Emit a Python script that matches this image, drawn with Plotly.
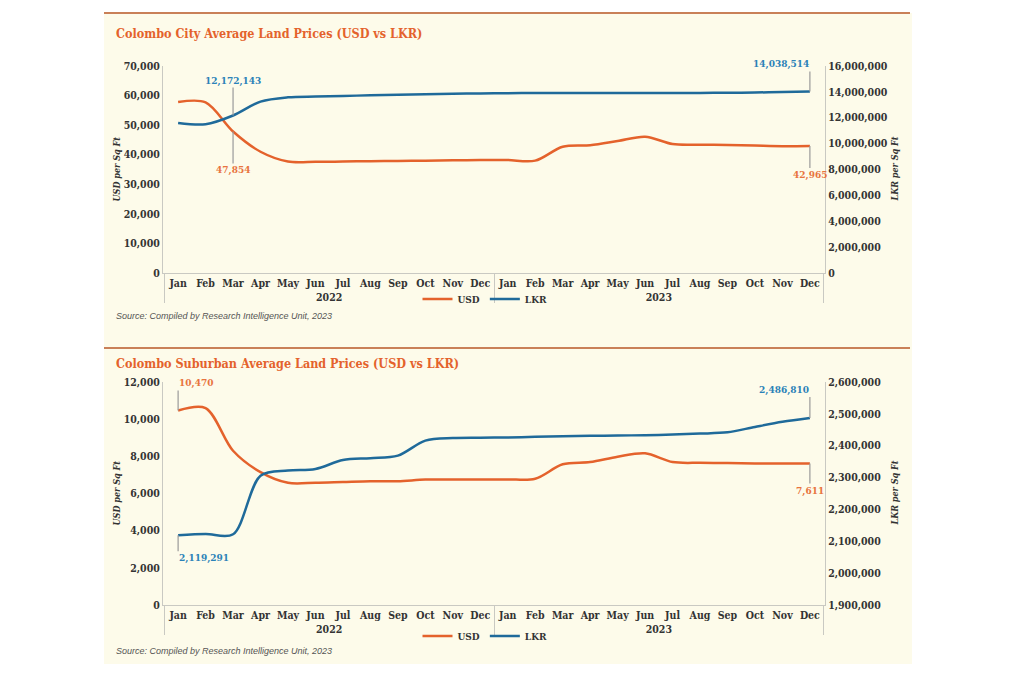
import plotly.graph_objects as go
from plotly.subplots import make_subplots

# ---------------- data ----------------
months = ["Jan", "Feb", "Mar", "Apr", "May", "Jun", "Jul", "Aug", "Sep", "Oct", "Nov", "Dec"]
years = ["2022", "2023"]

city_usd = [57800, 57700, 47854, 41000, 37700, 37600, 37700, 37800, 37900, 38000, 38100, 38200,
            38200, 38000, 42700, 43200, 44600, 46100, 43600, 43400, 43300, 43100, 42900, 42965]
city_lkr = [11600000, 11500000, 12172143, 13250000, 13580000, 13640000, 13680000, 13740000,
            13780000, 13820000, 13860000, 13880000, 13900000, 13910000, 13910000, 13920000,
            13920000, 13920000, 13920000, 13920000, 13930000, 13950000, 13990000, 14038514]

sub_usd = [10470, 10600, 8300, 7150, 6575, 6580, 6620, 6660, 6660, 6750, 6750, 6750,
           6760, 6790, 7570, 7690, 7980, 8160, 7690, 7650, 7640, 7620, 7610, 7611]
sub_lkr = [2119291, 2123000, 2122000, 2306000, 2322000, 2327000, 2355000, 2361000, 2369000,
           2416000, 2424000, 2425000, 2426000, 2428000, 2430000, 2431000, 2432000, 2433000,
           2435000, 2438000, 2442000, 2459000, 2475000, 2486810]

titles = ["Colombo City Average Land Prices (USD vs LKR)",
          "Colombo Suburban Average Land Prices (USD vs LKR)"]
source = "Source: Compiled by Research Intelligence Unit, 2023"

# ---------------- styling ----------------
ORANGE = "#E4622C"
BLUE = "#1F6A9A"
ORANGE_TXT = "#E8743E"
BLUE_TXT = "#2B82B8"
CREAM = "#FDFBEA"
RULE = "#C98058"
AXIS = "#C9C9C2"
TXT = "#333333"
SERIF = "DejaVu Serif Condensed, DejaVu Serif, serif"

x_cat = [[y for y in years for _ in months], [m for _ in years for m in months]]

fig = make_subplots(rows=2, cols=1,
                    specs=[[{"secondary_y": True}], [{"secondary_y": True}]])

fig.add_trace(go.Scatter(x=x_cat, y=city_usd, name="USD", mode="lines",
                         line=dict(color=ORANGE, width=2.5, shape="spline", smoothing=0.9),
                         legend="legend"), row=1, col=1, secondary_y=False)
fig.add_trace(go.Scatter(x=x_cat, y=city_lkr, name="LKR", mode="lines",
                         line=dict(color=BLUE, width=2.5, shape="spline", smoothing=0.9),
                         legend="legend"), row=1, col=1, secondary_y=True)
fig.add_trace(go.Scatter(x=x_cat, y=sub_usd, name="USD", mode="lines",
                         line=dict(color=ORANGE, width=2.5, shape="spline", smoothing=0.9),
                         legend="legend2"), row=2, col=1, secondary_y=False)
fig.add_trace(go.Scatter(x=x_cat, y=sub_lkr, name="LKR", mode="lines",
                         line=dict(color=BLUE, width=2.5, shape="spline", smoothing=0.9),
                         legend="legend2"), row=2, col=1, secondary_y=True)

W, H = 1024, 683
def px(xp):
    return xp / W
def py(yp):
    return 1 - yp / H

xdom = [px(163), px(825)]
top_dom = [py(273), py(66)]
bot_dom = [py(605), py(382)]

tickfont = dict(family=SERIF, size=10.5, color=TXT, weight="bold")
xcommon = dict(type="multicategory", showline=True, linecolor=AXIS, linewidth=1.2,
               showgrid=False, zeroline=False, ticks="", tickfont=tickfont, tickangle=0,
               showdividers=True, dividercolor=AXIS, dividerwidth=1.2,
               range=[-0.55, 23.55], domain=xdom, automargin=False)
fig.update_layout(xaxis=dict(**xcommon, anchor="y"), xaxis2=dict(**xcommon, anchor="y3"))

ycommon = dict(showline=True, linecolor=AXIS, linewidth=1.2, showgrid=False,
               zeroline=False, ticks="", tickfont=tickfont, tickformat=",d",
               automargin=False)
fig.update_layout(
    yaxis=dict(**ycommon, range=[0, 70000], dtick=10000, domain=top_dom),
    yaxis2=dict(**ycommon, range=[0, 16000000], dtick=2000000, domain=top_dom,
                overlaying="y", side="right"),
    yaxis3=dict(**ycommon, range=[0, 12000], dtick=2000, domain=bot_dom),
    yaxis4=dict(**ycommon, range=[1900000, 2600000], dtick=100000, domain=bot_dom,
                overlaying="y3", side="right"),
)

# panel background and rules
shapes = [
    dict(type="rect", xref="paper", yref="paper", x0=px(104), x1=px(912), y0=py(664), y1=py(13),
         fillcolor=CREAM, line=dict(width=0), layer="below"),
    dict(type="line", xref="paper", yref="paper", x0=px(104), x1=px(910), y0=py(13), y1=py(13),
         line=dict(color=RULE, width=2)),
    dict(type="line", xref="paper", yref="paper", x0=px(104), x1=px(910), y0=py(348), y1=py(348),
         line=dict(color=RULE, width=2)),
]

ann = []
# chart titles
for t, yp in zip(titles, [33, 363]):
    ann.append(dict(text="<b>" + t + "</b>", xref="paper", yref="paper", x=px(114), y=py(yp),
                    xanchor="left", yanchor="middle", showarrow=False,
                    font=dict(family=SERIF, size=12.5, color=ORANGE)))
# source lines
for yp in [316, 651]:
    ann.append(dict(text="<i>" + source + "</i>", xref="paper", yref="paper", x=px(114), y=py(yp),
                    xanchor="left", yanchor="middle", showarrow=False,
                    font=dict(family="Liberation Sans Narrow, Liberation Sans, sans-serif",
                              size=9, color="#555555")))
# axis titles
for yc in [(66 + 273) / 2, (382 + 605) / 2]:
    ann.append(dict(text="<b><i>USD per Sq Ft</i></b>", xref="paper", yref="paper", x=px(116), y=py(yc),
                    xanchor="center", yanchor="middle", textangle=-90, showarrow=False,
                    font=dict(family=SERIF, size=9, color=TXT)))
    ann.append(dict(text="<b><i>LKR per Sq Ft</i></b>", xref="paper", yref="paper", x=px(894), y=py(yc),
                    xanchor="center", yanchor="middle", textangle=-90, showarrow=False,
                    font=dict(family=SERIF, size=9, color=TXT)))

def callout(xi, yv, yref, text, color, ay, xanchor="center"):
    return dict(x=xi, y=yv, xref="x" if yref in ("y", "y2") else "x2", yref=yref,
                text="<b>" + text + "</b>", showarrow=True, arrowhead=0, arrowwidth=1.2,
                arrowcolor="#9A9A9A", ax=0, ay=ay, xanchor=xanchor,
                yanchor="bottom" if ay < 0 else "top",
                font=dict(family=SERIF, size=10, color=color), borderpad=0)

ann += [
    callout(2, city_lkr[2], "y2", f"{city_lkr[2]:,}", BLUE_TXT, -28),
    callout(2, city_usd[2], "y", f"{city_usd[2]:,}", ORANGE_TXT, 32),
    callout(23, city_lkr[23], "y2", f"{city_lkr[23]:,}", BLUE_TXT, -20, "right"),
    callout(23, city_usd[23], "y", f"{city_usd[23]:,}", ORANGE_TXT, 22),
    callout(0, sub_usd[0], "y3", f"{sub_usd[0]:,}", ORANGE_TXT, -20, "left"),
    callout(0, sub_lkr[0], "y4", f"{sub_lkr[0]:,}", BLUE_TXT, 16, "left"),
    callout(23, sub_lkr[23], "y4", f"{sub_lkr[23]:,}", BLUE_TXT, -21, "right"),
    callout(23, sub_usd[23], "y3", f"{sub_usd[23]:,}", ORANGE_TXT, 20),
]

legcommon = dict(orientation="h", xanchor="center", yanchor="middle", bgcolor="rgba(0,0,0,0)",
                 font=dict(family=SERIF, size=10, color=TXT, weight="bold"),
                 itemwidth=30, tracegroupgap=0)
fig.update_layout(
    width=W, height=H, margin=dict(l=0, r=0, t=0, b=0),
    paper_bgcolor="white", plot_bgcolor="rgba(0,0,0,0)",
    shapes=shapes, annotations=ann, showlegend=True,
    legend=dict(**legcommon, x=px(485), y=py(299)),
    legend2=dict(**legcommon, x=px(485), y=py(636)),
)

fig.write_html("out.html", config={"displayModeBar": False},
               post_script="document.body.style.margin='0px';")
